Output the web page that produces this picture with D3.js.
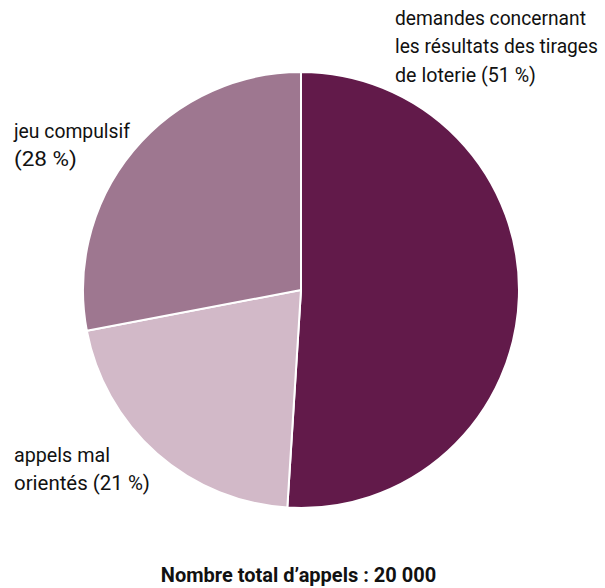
<!DOCTYPE html>
<html>
<head>
<meta charset="utf-8">
<script src="https://cdn.jsdelivr.net/npm/d3@7"></script>
<style>
  html, body { margin: 0; padding: 0; background: #fff; }
  svg { display: block; }
  text { font-family: Roboto, "Liberation Sans", Arial, sans-serif; fill: #111; }
</style>
</head>
<body>
<svg id="chart" width="605" height="588"></svg>
<script>
const categories = ["demandes concernant les résultats des tirages de loterie", "appels mal orientés", "jeu compulsif"];
const values = [51, 21, 28];
const colors = ["#621a4a", "#d2b9c8", "#9e7790"];
const labelLines = [
  ["demandes concernant", "les résultats des tirages", "de loterie (51 %)"],
  ["appels mal", "orientés (21 %)"],
  ["jeu compulsif", "(28 %)"]
];
const title = "Nombre total d\u2019appels : 20 000";

const svg = d3.select("#chart");
const cx = 301, cy = 290, r = 218;

const pie = d3.pie().sort(null).value(d => d)(values);
const arc = d3.arc().innerRadius(0).outerRadius(r);

svg.append("g")
  .attr("transform", `translate(${cx},${cy})`)
  .selectAll("path")
  .data(pie)
  .join("path")
  .attr("d", arc)
  .attr("fill", (d, i) => colors[i])
  .attr("stroke", "#fff")
  .attr("stroke-width", 2)
  .attr("stroke-linejoin", "round");

// layout: position of each label block and the rendered width of each line
const labelLayout = [
  { x: 395, y: 25, widths: [191, 203, 141] },
  { x: 14, y: 462, widths: [96, 136] },
  { x: 14, y: 138, widths: [116, 63] }
];
const lineH = 28.3;

labelLines.forEach((lines, i) => {
  const L = labelLayout[i];
  lines.forEach((l, j) => {
    const t = svg.append("text")
      .attr("x", 0)
      .attr("y", 0)
      .attr("font-size", 20.5)
      .text(l);
    const w = t.node().getComputedTextLength();
    const s = w > 0 ? L.widths[j] / w : 1;
    t.attr("transform", `translate(${L.x},${L.y + j * lineH}) scale(${s},1)`);
  });
});

svg.append("text")
  .attr("x", 298.5)
  .attr("y", 582)
  .attr("text-anchor", "middle")
  .attr("font-size", 20)
  .attr("font-weight", "bold")
  .text(title);
</script>
</body>
</html>
